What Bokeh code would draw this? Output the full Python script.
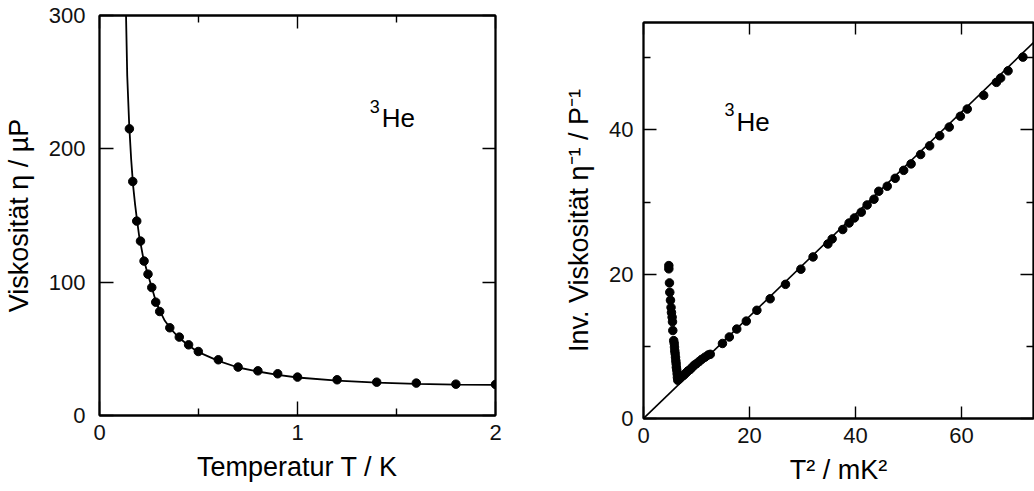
import numpy as np
from bokeh.plotting import figure
from bokeh.models import LinearAxis, FixedTicker, Range1d, Label
from bokeh.embed import file_html
from bokeh.resources import INLINE

# ---------------- data: left panel (viscosity of 3He vs temperature) ----------------
temp_K = [0.151, 0.168, 0.188, 0.207, 0.225, 0.245, 0.264, 0.284, 0.304, 0.355,
          0.403, 0.450, 0.499, 0.600, 0.700, 0.800, 0.900, 1.000, 1.200, 1.400,
          1.600, 1.800, 2.000]
visc_uP = [215, 175.5, 145.8, 130.8, 115.8, 106, 96, 85, 78, 65.8,
           58.8, 53, 48, 41.8, 36.3, 33.5, 31.3, 28.8, 26.8, 25,
           24.3, 23.5, 23.3]
fit_temp_K = [0.134, 0.14, 0.15, 0.16, 0.17, 0.18, 0.19, 0.20, 0.22, 0.24, 0.26,
              0.28, 0.30, 0.33, 0.36, 0.40, 0.45, 0.50, 0.60, 0.70, 0.80, 0.90,
              1.00, 1.20, 1.40, 1.60, 1.80, 2.00]
fit_visc_uP = [300, 255, 218, 192, 172, 158, 146, 135, 119, 108, 98,
               88, 80, 71, 65, 58.5, 52.5, 47.5, 41, 36, 33, 30.5,
               28.5, 26.2, 24.6, 23.7, 23.2, 22.9]

# ---------------- data: right panel (inverse viscosity vs T^2) ----------------
t2_mK2 = [4.78, 4.78, 4.9, 4.96, 5.09, 5.2, 5.28, 5.4, 5.47, 5.53, 5.7, 5.8, 5.85,
          5.9, 5.97, 6.04, 6.1, 6.16, 6.2, 6.28, 6.35, 6.4, 6.47,
          6.8, 7.2, 7.6, 8.0, 8.4, 8.8, 9.2, 9.6, 10.0, 10.5, 11.0, 11.6, 12.2, 12.6,
          14.9, 16.2, 17.6, 19.4, 21.4, 23.9, 26.8, 29.7, 32.0, 34.8, 35.6, 37.6,
          38.8, 39.8, 41.1, 42.2, 43.5, 44.4, 46.0, 47.5, 49.1, 50.5, 52.3, 54.0,
          55.9, 57.7, 59.8, 61.1, 64.2, 66.6, 67.4, 68.8, 71.6]
inv_visc = [21.2, 20.75, 18.8, 17.5, 16.4, 15.4, 14.7, 14.05, 13.4, 12.2, 10.8, 10.4, 9.9,
            9.4, 9.0, 8.5, 8.0, 7.6, 7.1, 6.7, 6.2, 5.7, 5.3,
            5.5, 5.8, 6.0, 6.3, 6.6, 6.8, 7.1, 7.4, 7.6, 7.9, 8.2, 8.5, 8.8, 8.9,
            10.4, 11.3, 12.4, 13.5, 15.0, 16.6, 18.6, 20.7, 22.4, 24.2, 24.9, 26.2,
            27.1, 27.8, 28.6, 29.6, 30.4, 31.5, 32.2, 33.3, 34.4, 35.3, 36.6, 37.8,
            39.2, 40.4, 41.9, 42.9, 44.8, 46.6, 47.2, 48.2, 50.1]
fit_t2 = [0, 74]
fit_inv = [0, 52.4]

# tick positions
left_x_ticks = [0, 1, 2]
left_x_minor = [0.5, 1.5]
left_y_ticks = [0, 100, 200, 300]
right_x_ticks = [0, 20, 40, 60]
right_y_ticks = [0, 20, 40]
right_y_minor = [10, 30, 50]

# axis titles
left_x_title = "Temperatur T / K"
left_y_title = "Viskosität η / µP"
right_x_title = "T² / mK²"
right_y_title = "Inv. Viskosität η⁻¹ / P⁻¹"

FONT = "Liberation Sans"
LBL = "27px"
HE = "26px"
SUP = "18px"
TICK = "22px"


def make_fig(width, bl, br, bt, bb, xr, yr):
    p = figure(width=width, height=491, x_range=Range1d(*xr), y_range=Range1d(*yr),
               output_backend="svg", toolbar_location=None,
               x_axis_location=None, y_axis_location=None,
               min_border_left=bl, min_border_right=br,
               min_border_top=bt, min_border_bottom=bb)
    p.grid.visible = False
    p.outline_line_color = "black"
    p.outline_line_width = 1.8
    p.background_fill_color = "white"
    p.border_fill_color = "white"
    return p


def add_axis(p, side, ticks, minor, labeled, standoff, tick_len,
             title=None, title_standoff=0):
    ax = LinearAxis(ticker=FixedTicker(ticks=ticks, minor_ticks=minor))
    ax.major_tick_in = tick_len
    ax.major_tick_out = 0
    ax.minor_tick_in = 7
    ax.minor_tick_out = 0
    ax.major_tick_line_width = 1.4
    ax.minor_tick_line_width = 1.4
    ax.axis_line_width = 1.8
    ax.axis_line_color = "black"
    ax.major_tick_line_color = "black"
    ax.minor_tick_line_color = "black"
    ax.major_label_text_font = FONT
    ax.major_label_text_color = "#111111"
    if labeled:
        ax.major_label_text_font_size = TICK
        ax.major_label_standoff = standoff
    else:
        ax.major_label_overrides = {t: "" for t in ticks}
        ax.major_label_text_font_size = "1px"
        ax.major_label_standoff = 0
    if title is not None:
        ax.axis_label = title
        ax.axis_label_text_font = FONT
        ax.axis_label_text_font_size = LBL
        ax.axis_label_text_font_style = "normal"
        ax.axis_label_text_color = "black"
        ax.axis_label_standoff = title_standoff
    p.add_layout(ax, side)
    return ax


def lab(p, x, y, text, size=HE):
    p.add_layout(Label(x=x, y=y, text=text, text_font=FONT, text_font_size=size,
                       text_color="black", text_align="left",
                       text_baseline="alphabetic"))


# ---------------- left figure ----------------
left = make_fig(540, 98, 45, 15, 76, (0, 2), (0, 300))
add_axis(left, "below", left_x_ticks, left_x_minor, True, 9, 14, left_x_title, 9)
add_axis(left, "above", left_x_ticks, left_x_minor, False, 0, 13)
add_axis(left, "left", left_y_ticks, [], True, 14, 14, left_y_title, 12)
add_axis(left, "right", left_y_ticks, [], False, 0, 13)

left.line(fit_temp_K, fit_visc_uP, line_color="black", line_width=1.8)
left.scatter(temp_K, visc_uP, size=8.5, fill_color="black", line_color="black")


def lx(px):
    return (px - 98) / 397 * 2


def ly(py):
    return (415 - py) * 300 / 400


lab(left, lx(369), ly(106), "3", size=SUP)
lab(left, lx(381), ly(117), "He")

# ---------------- right figure ----------------
right = make_fig(494, 103, 1, 22, 73, (0, 73.6), (0, 54.9))
add_axis(right, "below", right_x_ticks, [], True, 9, 12, right_x_title, 9)
add_axis(right, "above", right_x_ticks, [], False, 0, 12)
add_axis(right, "left", right_y_ticks, right_y_minor, True, 10, 13, right_y_title, 12)
add_axis(right, "right", right_y_ticks, right_y_minor, False, 0, 13)

right.line(fit_t2, fit_inv, line_color="black", line_width=1.6)
right.scatter(t2_mK2, inv_visc, size=8.5, fill_color="black", line_color="black")


def rx(px):
    return (px - 643) / 390 * 73.6


def ry(py):
    return (418 - py) / 396 * 54.9


lab(right, rx(724), ry(109), "3", size=SUP)
lab(right, rx(736), ry(121), "He")

# two independent roots side by side (so their frames are not aligned)
TEMPLATE = """
{% block contents %}
{% from macros import embed %}
<div style="display:flex;flex-direction:row;align-items:flex-start;margin:0;padding:0">
{% for doc in docs %}{% for root in doc.roots %}{{ embed(root) }}{% endfor %}{% endfor %}
</div>
{% endblock %}
"""

open("out.html", "w").write(file_html([left, right], INLINE, template=TEMPLATE))
